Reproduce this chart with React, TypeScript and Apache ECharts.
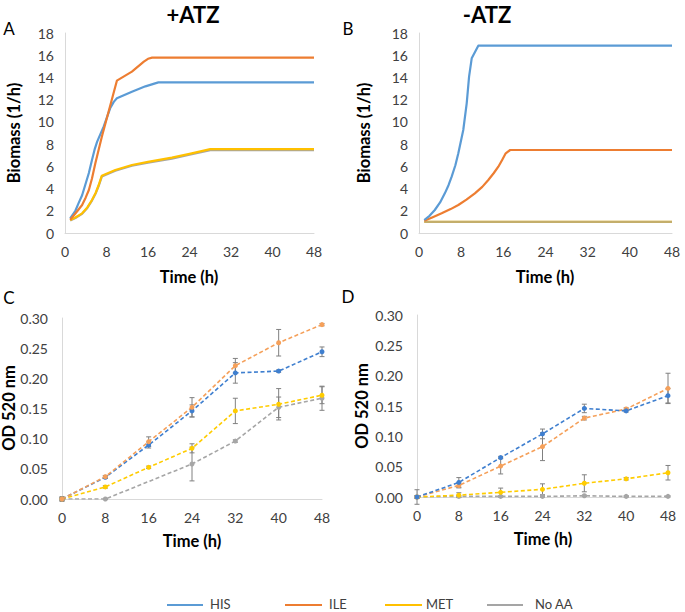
import React, { useEffect, useRef } from "react";
import * as echarts from "echarts";

const FONT = "Lato, 'Open Sans', sans-serif";
const SERIES_NAMES = ["HIS", "ILE", "MET", "No AA"];
const SIM_COLORS = ["#5b9bd5", "#ed7d31", "#ffc000", "#a5a5a5"];
const EXP_COLORS = ["#3f7fcf", "#f5a05a", "#ffcc00", "#a6a6a6"];

// Panel A (+ATZ) simulated biomass: [time, value]
const A_HIS = [[1, 1.32], [2, 2.0], [2.6, 2.67], [3.3, 3.4], [3.9, 4.32], [4.6, 5.4], [5.2, 6.57], [5.7, 7.5], [6.2, 8.22], [7.45, 9.57], [8.7, 11.22], [9.4, 11.8], [10, 12.12], [12.9, 12.72], [15.5, 13.2], [18, 13.56], [48, 13.56]];
const A_ILE = [[1, 1.2], [2, 1.75], [3.3, 2.52], [4, 3.2], [4.6, 3.87], [5.2, 4.9], [5.85, 6.27], [7.1, 8.67], [8.4, 10.92], [10, 13.71], [12.9, 14.52], [15.2, 15.42], [16, 15.68], [16.8, 15.78], [48, 15.78]];
const A_MET = [[1, 1.17], [2, 1.4], [3.3, 1.77], [4.3, 2.3], [5.2, 2.97], [5.9, 3.6], [6.5, 4.32], [7.1, 5.16], [9.7, 5.67], [12.9, 6.12], [16, 6.4], [20.6, 6.78], [24, 7.12], [28, 7.55], [48, 7.55]];
const A_NOAA = [[1, 1.12], [2, 1.35], [3.3, 1.72], [4.3, 2.25], [5.2, 2.92], [5.9, 3.55], [6.5, 4.25], [7.1, 5.08], [9.7, 5.6], [12.9, 6.05], [16, 6.33], [20.6, 6.7], [24, 7.04], [28, 7.46], [48, 7.46]];

// Panel B (-ATZ) simulated biomass
const B_HIS = [[1, 1.17], [2, 1.55], [3, 2.07], [4, 2.75], [4.9, 3.57], [5.6, 4.3], [6.2, 5.07], [6.9, 6.1], [7.46, 7.17], [8.4, 9.27], [9.05, 11.67], [9.5, 14.07], [10, 15.72], [11.25, 16.86], [48, 16.86]];
const B_ILE = [[1, 1.1], [2.5, 1.4], [4.3, 1.77], [6, 2.15], [7.46, 2.52], [9, 3.0], [10.6, 3.57], [12, 4.15], [13.15, 4.77], [14.2, 5.4], [15.05, 5.97], [15.8, 6.6], [16.45, 7.17], [17.3, 7.47], [48, 7.47]];
const B_MET = [[1, 1.0], [48, 1.0]];
const B_NOAA = [[1, 1.0], [48, 1.0]];

// Panels C / D measured OD 520 nm
const TIMES = [0, 8, 16, 24, 32, 40, 48];
const C_HIS = [0, 0.036, 0.0895, 0.146, 0.209, 0.212, 0.244];
const C_ILE = [0, 0.037, 0.095, 0.152, 0.221, 0.259, 0.289];
const C_MET = [0, 0.020, 0.0525, 0.084, 0.146, 0.157, 0.172];
const C_NOAA = [0, 0, null, 0.058, 0.096, 0.152, 0.167];
const C_HIS_ERR = [0.002, 0.002, 0.005, 0.01, 0.017, 0.002, 0.008];
const C_ILE_ERR = [0.002, 0.002, 0.008, 0.016, 0.012, 0.022, 0.002];
const C_MET_ERR = [0.002, 0.002, 0.002, 0.0075, 0.021, 0.026, 0.014];
const C_NOAA_ERR = [0.004, 0.001, 0, 0.028, 0.002, 0.017, 0.02];

const D_HIS = [0, 0.024, 0.065, 0.104, 0.146, 0.142, 0.167];
const D_ILE = [0, 0.019, 0.051, 0.083, 0.130, 0.145, 0.179];
const D_MET = [0, 0.003, 0.0077, 0.0127, 0.0226, 0.030, 0.040];
const D_NOAA = [0, 0.001, 0.001, 0.001, 0.002, 0.001, 0.001];
const D_HIS_ERR = [0.002, 0.008, 0.002, 0.008, 0.007, 0.002, 0.012];
const D_ILE_ERR = [0.002, 0.004, 0.013, 0.023, 0.003, 0.002, 0.025];
const D_MET_ERR = [0.002, 0.004, 0.007, 0.009, 0.014, 0.002, 0.012];
const D_NOAA_ERR = [0.012, 0.001, 0.001, 0.001, 0.001, 0.001, 0.001];

const X_TICKS = { min: 0, max: 48, interval: 8 };

export default function App() {
  const ref = useRef<HTMLDivElement>(null);
  useEffect(() => {
    if (!ref.current) return;
    const chart = echarts.init(ref.current, null, { renderer: "svg" });

    const grids = [
      { left: 65, top: 33, width: 249, height: 200 },
      { left: 419, top: 33, width: 253, height: 200 },
      { left: 62, top: 318, width: 260, height: 181 },
      { left: 417, top: 315, width: 251, height: 182 },
    ];

    const axisLine = { show: true, lineStyle: { color: "#d9d9d9", width: 1 } };
    const labelStyle = { color: "#404040", fontSize: 14, fontFamily: FONT };

    const xAxes = grids.map((_, i) => ({
      type: "value",
      gridIndex: i,
      ...X_TICKS,
      axisLine,
      axisTick: { show: false },
      splitLine: { show: false },
      axisLabel: { ...labelStyle, margin: 11 },
    }));
    const yAxes = grids.map((_, i) =>
      i < 2
        ? {
            type: "value",
            gridIndex: i,
            min: 0,
            max: 18,
            interval: 2,
            axisLine,
            axisTick: { show: false },
            splitLine: { show: false },
            axisLabel: { ...labelStyle, margin: 11 },
          }
        : {
            type: "value",
            gridIndex: i,
            min: 0,
            max: 0.3,
            interval: 0.05,
            axisLine,
            axisTick: { show: false },
            splitLine: { show: false },
            axisLabel: { ...labelStyle, margin: 14, formatter: (v: number) => v.toFixed(2) },
          }
    );

    const simSeries = (data: number[][], idx: number, colorIdx: number, opacity = 1) => ({
      type: "line",
      name: SERIES_NAMES[colorIdx],
      xAxisIndex: idx,
      yAxisIndex: idx,
      data,
      showSymbol: false,
      symbol: "none",
      smooth: false,
      lineStyle: { color: SIM_COLORS[colorIdx], width: 2.2, opacity, join: "round" },
      itemStyle: { color: SIM_COLORS[colorIdx] },
    });

    const expSeries = (vals: (number | null)[], idx: number, colorIdx: number) => ({
      type: "line",
      name: SERIES_NAMES[colorIdx],
      xAxisIndex: idx,
      yAxisIndex: idx,
      data: TIMES.map((t, k) => [t, vals[k] === null ? "-" : vals[k]]),
      connectNulls: true,
      symbol: "circle",
      symbolSize: 5,
      lineStyle: { color: EXP_COLORS[colorIdx], width: 1.6, type: [4, 2.5] },
      itemStyle: { color: EXP_COLORS[colorIdx] },
    });

    const errRender = (_params: any, api: any) => {
      const x = api.value(0);
      const lo = api.value(1);
      const hi = api.value(2);
      const p1 = api.coord([x, hi]);
      const p2 = api.coord([x, lo]);
      const w = 2.5;
      const style = { stroke: "#808080", lineWidth: 1 };
      return {
        type: "group",
        children: [
          { type: "line", shape: { x1: p1[0], y1: p1[1], x2: p2[0], y2: p2[1] }, style },
          { type: "line", shape: { x1: p1[0] - w, y1: p1[1], x2: p1[0] + w, y2: p1[1] }, style },
          { type: "line", shape: { x1: p2[0] - w, y1: p2[1], x2: p2[0] + w, y2: p2[1] }, style },
        ],
      };
    };

    const errSeries = (vals: (number | null)[], errs: number[], idx: number) => ({
      type: "custom",
      xAxisIndex: idx,
      yAxisIndex: idx,
      renderItem: errRender,
      encode: { x: 0, y: [1, 2] },
      data: TIMES.map((t, k) => [t, vals[k], errs[k]])
        .filter((d) => d[1] !== null)
        .map((d) => [d[0], (d[1] as number) - (d[2] as number), (d[1] as number) + (d[2] as number)]),
      z: 3,
    });

    const series: any[] = [
      simSeries(A_NOAA, 0, 3),
      simSeries(A_MET, 0, 2),
      simSeries(A_HIS, 0, 0),
      simSeries(A_ILE, 0, 1),
      simSeries(B_MET, 1, 2),
      simSeries(B_NOAA, 1, 3, 0.65),
      simSeries(B_ILE, 1, 1),
      simSeries(B_HIS, 1, 0),
      expSeries(C_NOAA, 2, 3),
      expSeries(C_MET, 2, 2),
      expSeries(C_HIS, 2, 0),
      expSeries(C_ILE, 2, 1),
      errSeries(C_NOAA, C_NOAA_ERR, 2),
      errSeries(C_MET, C_MET_ERR, 2),
      errSeries(C_HIS, C_HIS_ERR, 2),
      errSeries(C_ILE, C_ILE_ERR, 2),
      expSeries(D_NOAA, 3, 3),
      expSeries(D_MET, 3, 2),
      expSeries(D_ILE, 3, 1),
      expSeries(D_HIS, 3, 0),
      errSeries(D_NOAA, D_NOAA_ERR, 3),
      errSeries(D_MET, D_MET_ERR, 3),
      errSeries(D_HIS, D_HIS_ERR, 3),
      errSeries(D_ILE, D_ILE_ERR, 3),
    ];

    const txt = (text: string, x: number, y: number, font: string, opts: any = {}) => ({
      type: "text",
      x,
      y,
      rotation: opts.rotation || 0,
      style: {
        text,
        font,
        fill: opts.fill || "#000000",
        textAlign: opts.align || "center",
        textVerticalAlign: "middle",
      },
      z: 10,
    });

    const boldT = `bold 16.5px ${FONT}`;
    const graphic: any[] = [
      txt("+ATZ", 193, 14, `bold 22px ${FONT}`),
      txt("-ATZ", 487, 14, `bold 22px ${FONT}`),
      txt("A", 9, 28, `17px ${FONT}`),
      txt("B", 348, 28, `17px ${FONT}`),
      txt("C", 9, 297, `17px ${FONT}`),
      txt("D", 348, 296, `17px ${FONT}`),
      txt("Biomass (1/h)", 14, 133, boldT, { rotation: Math.PI / 2 }),
      txt("Biomass (1/h)", 364, 133, boldT, { rotation: Math.PI / 2 }),
      txt("OD 520 nm", 9, 408, boldT, { rotation: Math.PI / 2 }),
      txt("OD 520 nm", 362, 406, boldT, { rotation: Math.PI / 2 }),
      txt("Time (h)", 189, 277, boldT),
      txt("Time (h)", 545, 277, boldT),
      txt("Time (h)", 192, 541, boldT),
      txt("Time (h)", 543, 539, boldT),
    ];

    const legendLines = [
      [167, 203, 210],
      [285, 322, 329],
      [385, 422, 426],
      [487, 523, 535],
    ];
    legendLines.forEach(([x1, x2, tx], i) => {
      graphic.push({
        type: "line",
        shape: { x1, y1: 605, x2, y2: 605 },
        style: { stroke: SIM_COLORS[i], lineWidth: 2.2 },
      });
      graphic.push(txt(SERIES_NAMES[i], tx, 604, `13px ${FONT}`, { align: "left", fill: "#404040" }));
    });

    chart.setOption({
      animation: false,
      backgroundColor: "#ffffff",
      textStyle: { fontFamily: FONT },
      grid: grids,
      xAxis: xAxes,
      yAxis: yAxes,
      series,
      graphic,
    });
    return () => chart.dispose();
  }, []);

  return (
    <div
      ref={ref}
      style={{ position: "fixed", left: 0, top: 0, width: 685, height: 612, background: "#fff" }}
    />
  );
}
